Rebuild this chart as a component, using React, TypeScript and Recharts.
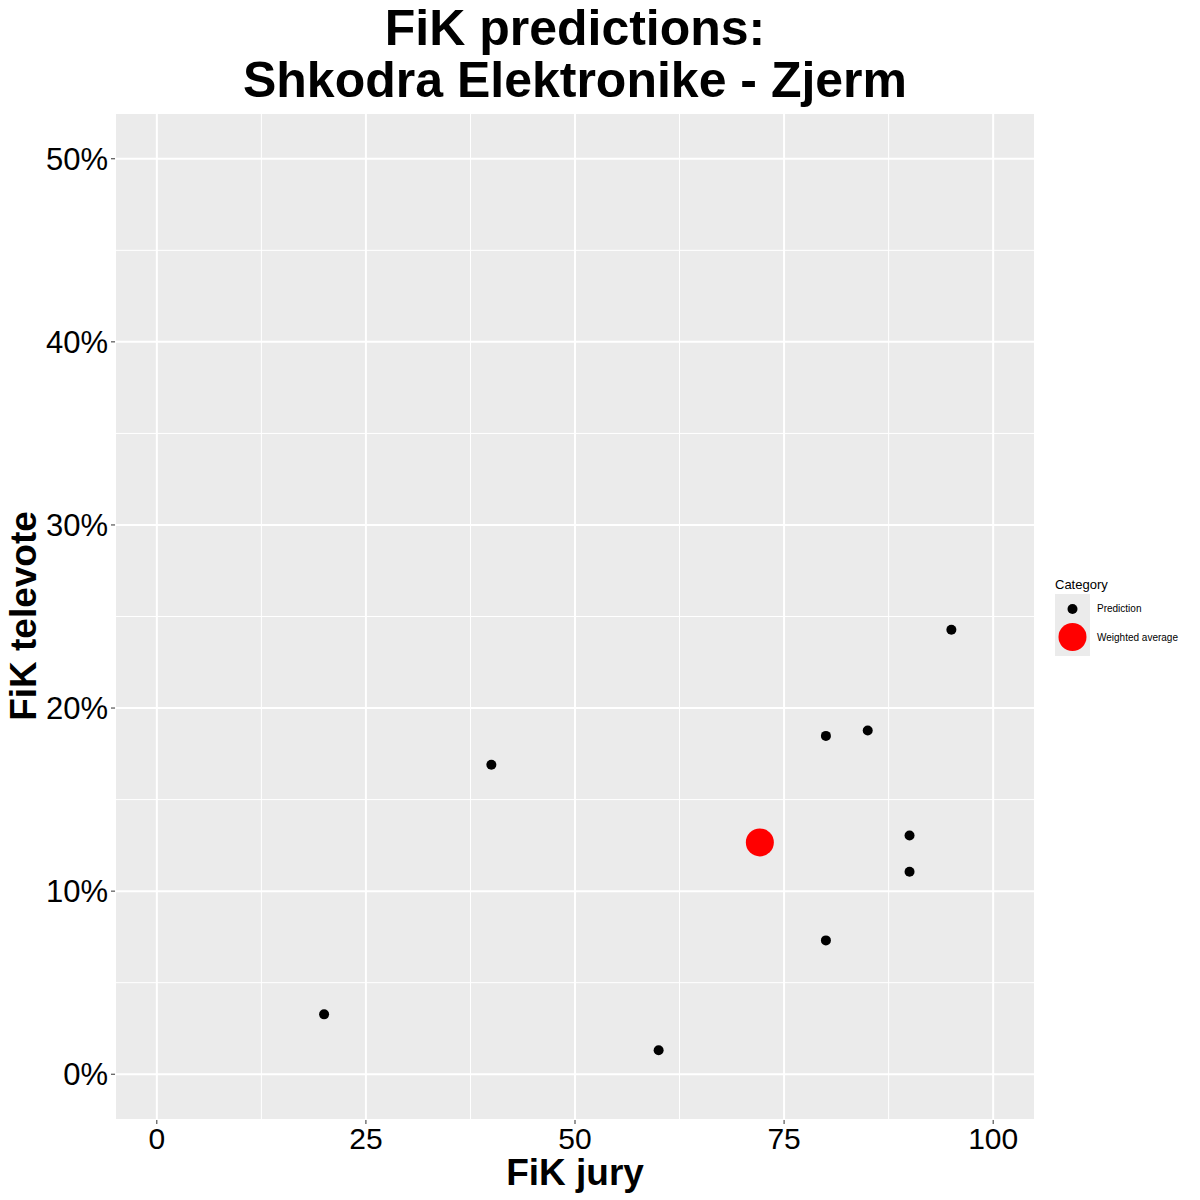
import React from 'react';
import {
  ScatterChart,
  Scatter,
  XAxis,
  YAxis,
  ZAxis,
  CartesianGrid,
  ReferenceLine,
} from 'recharts';

// FiK jury score vs FiK televote share (%)
const predictionJury = [20, 40, 60, 80, 85, 95, 90, 90, 80];
const predictionTele = [3.27, 16.9, 1.31, 18.48, 18.77, 24.28, 13.04, 11.06, 7.31];
const averageJury = [72.1];
const averageTele = [12.66];

const xTicks = [0, 25, 50, 75, 100];
const yTicks = [0, 10, 20, 30, 40, 50];
const xMinor = [12.5, 37.5, 62.5, 87.5];
const yMinor = [5, 15, 25, 35, 45];

const predictions = predictionJury.map((x, i) => ({ x, y: predictionTele[i] }));
const average = averageJury.map((x, i) => ({ x, y: averageTele[i] }));

const FONT = '"Liberation Sans", Arial, sans-serif';

const Dot = (r: number, fill: string) => (props: any) => (
  <circle cx={props.cx} cy={props.cy} r={r} fill={fill} />
);

const LegendBox = () => (
  <svg width={150} height={90} style={{ position: 'absolute', left: 1050, top: 571, fontFamily: FONT }}>
    <text x={5} y={18} fontSize={13} fill="#000">Category</text>
    <rect x={5} y={23} width={35} height={62} fill="#EBEBEB" />
    <circle cx={22.5} cy={38} r={5} fill="#000" />
    <text x={47} y={41} fontSize={10} fill="#000">Prediction</text>
    <circle cx={22.5} cy={66} r={14} fill="#FF0000" />
    <text x={47} y={70} fontSize={10} fill="#000">Weighted average</text>
  </svg>
);

export default function App() {
  return (
    <div style={{ position: 'absolute', left: 0, top: 0, width: 1200, height: 1200, background: '#fff', fontFamily: FONT }}>
      <ScatterChart width={1200} height={1200} margin={{ top: 113, right: 165, bottom: 0, left: 0 }}>
        <CartesianGrid fill="#EBEBEB" stroke="#FFFFFF" strokeWidth={2} />
        {xMinor.map(v => (
          <ReferenceLine key={'x' + v} x={v} stroke="#FFFFFF" strokeWidth={1} />
        ))}
        {yMinor.map(v => (
          <ReferenceLine key={'y' + v} y={v} stroke="#FFFFFF" strokeWidth={1} />
        ))}
        <XAxis
          type="number"
          dataKey="x"
          domain={[-5, 105]}
          ticks={xTicks}
          allowDataOverflow
          height={80}
          axisLine={false}
          tickLine={{ stroke: '#333333', strokeWidth: 1 }}
          tickSize={4}
          tick={{ fontSize: 30, fill: '#000', fontFamily: FONT, dy: 2 }}
        />
        <YAxis
          type="number"
          dataKey="y"
          domain={[-2.5, 52.5]}
          ticks={yTicks}
          allowDataOverflow
          width={115}
          axisLine={false}
          tickLine={{ stroke: '#333333', strokeWidth: 1 }}
          tickSize={4}
          tickFormatter={(v: number) => `${v}%`}
          tick={{ fontSize: 31, fill: '#000', fontFamily: FONT, dx: -1 }}
        />
        <ZAxis range={[60, 60]} />
        <Scatter name="Prediction" data={predictions} shape={Dot(5, '#000000')} isAnimationActive={false} />
        <Scatter name="Weighted average" data={average} shape={Dot(14, '#FF0000')} isAnimationActive={false} />
      </ScatterChart>
      <svg width={1200} height={1200} style={{ position: 'absolute', left: 0, top: 0, pointerEvents: 'none' }}>
        <text x={575} y={45} textAnchor="middle" fontSize={50} fontWeight="bold" fontFamily={FONT} fill="#000">
          FiK predictions:
        </text>
        <text x={575} y={97} textAnchor="middle" fontSize={50} fontWeight="bold" fontFamily={FONT} fill="#000">
          Shkodra Elektronike - Zjerm
        </text>
        <text x={575} y={1185} textAnchor="middle" fontSize={37} fontWeight="bold" fontFamily={FONT} fill="#000">
          FiK jury
        </text>
        <text
          x={36}
          y={616}
          textAnchor="middle"
          fontSize={37}
          fontWeight="bold"
          fontFamily={FONT}
          fill="#000"
          transform="rotate(-90 36 616)"
        >
          FiK televote
        </text>
      </svg>
      <LegendBox />
    </div>
  );
}
